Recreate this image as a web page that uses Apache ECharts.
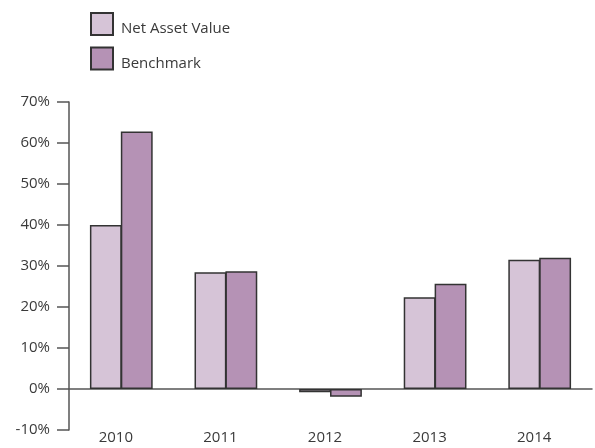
<!DOCTYPE html>
<html>
<head>
<meta charset="utf-8">
<script src="https://cdn.jsdelivr.net/npm/echarts@6/dist/echarts.min.js"></script>
<style>
  html, body { margin: 0; padding: 0; background: #fff; }
  #chart { width: 595px; height: 448px; }
</style>
</head>
<body>
<div id="chart"></div>
<script>
'use strict';

const years = ['2010', '2011', '2012', '2013', '2014'];
const navValues = [40.0, 28.5, -0.8, 22.4, 31.5];
const benchmarkValues = [62.8, 28.7, -1.9, 25.7, 32.0];
const seriesNames = ['Net Asset Value', 'Benchmark'];

const FONT = '"Open Sans", sans-serif';
const TEXT = '#3a3a3a';
const AXIS = '#555';
const BORDER = '#333';

let chart = echarts.init(document.getElementById('chart'));

chart.setOption({
  animation: false,
  backgroundColor: '#fff',
  legend: {
    orient: 'vertical',
    left: 90,
    top: 12,
    padding: 0,
    itemWidth: 22,
    itemHeight: 22,
    itemGap: 10,
    icon: 'rect',
    // legend text sits a little below the centre of its swatch
    formatter: '{t|{name}}',
    textStyle: {
      fontFamily: FONT, fontSize: 15, color: TEXT,
      rich: { t: { fontFamily: FONT, fontSize: 15, color: TEXT, padding: [10, 0, 0, 3] } }
    },
    data: seriesNames
  },
  grid: { left: 69, right: 3, top: 102, bottom: 18, containLabel: false },
  xAxis: [
    {
      // labels along the bottom of the plot
      type: 'category',
      data: years,
      position: 'bottom',
      axisLine: { show: false, onZero: false },
      axisTick: { show: false },
      axisLabel: { fontFamily: FONT, fontSize: 15, color: TEXT, margin: 0, padding: [0, 11, 0, 0] }
    },
    {
      // zero line only
      type: 'category',
      data: years,
      axisLine: { show: true, onZero: true, lineStyle: { color: AXIS, width: 1.5 } },
      axisTick: { show: false },
      axisLabel: { show: false }
    }
  ],
  yAxis: {
    type: 'value',
    min: -10,
    max: 70,
    interval: 10,
    splitLine: { show: false },
    axisLine: { show: true, lineStyle: { color: AXIS, width: 1.5 } },
    axisTick: { show: true, length: 12, lineStyle: { color: AXIS, width: 1.5 } },
    axisLabel: {
      fontFamily: FONT, fontSize: 15, color: TEXT, margin: 19,
      formatter: '{value}%'
    }
  },
  series: [
    {
      name: seriesNames[0],
      type: 'bar',
      data: navValues,
      barGap: '-3%',
      barCategoryGap: '40%',
      itemStyle: { color: '#d6c4d7', borderColor: BORDER, borderWidth: 1.5 }
    },
    {
      name: seriesNames[1],
      type: 'bar',
      data: benchmarkValues,
      itemStyle: { color: '#b592b5', borderColor: BORDER, borderWidth: 1.5 }
    }
  ]
});
</script>
</body>
</html>
